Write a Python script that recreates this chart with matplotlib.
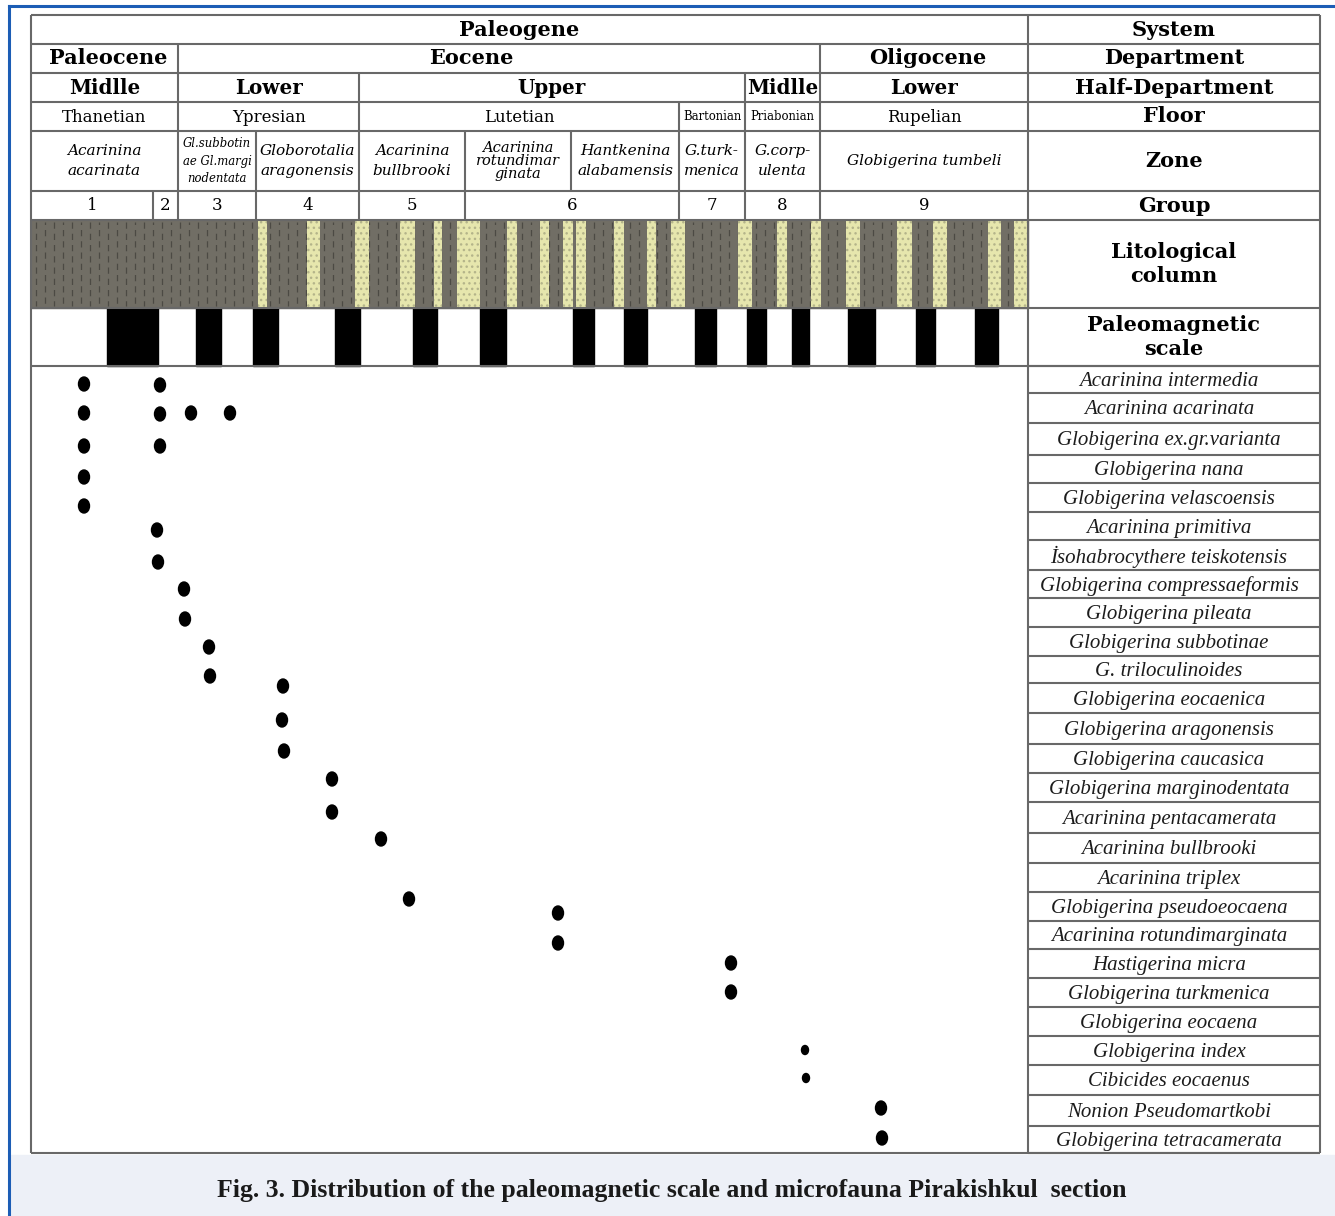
import numpy as np
import matplotlib.pyplot as plt
from matplotlib.patches import Rectangle, Ellipse

# ---- conteúdo do quadro ----
system = ['Paleogene']
departments = ['Paleocene', 'Eocene', 'Oligocene']
half_departments = ['Midlle', 'Lower', 'Upper', 'Midlle', 'Lower']
floors = ['Thanetian', 'Ypresian', 'Lutetian', 'Bartonian', 'Priabonian', 'Rupelian']
zones = ['Acarinina\nacarinata', 'Gl.subbotin\nae Gl.margi\nnodentata', 'Globorotalia\naragonensis',
         'Acarinina\nbullbrooki', 'Acarinina\nrotundimar\nginata', 'Hantkenina\nalabamensis',
         'G.turk-\nmenica', 'G.corp-\nulenta', 'Globigerina tumbeli']
groups = ['1', '2', '3', '4', '5', '6', '7', '8', '9']
row_titles = ['System', 'Department', 'Half-Department', 'Floor', 'Zone', 'Group',
              'Litological\ncolumn', 'Paleomagnetic\nscale']

species = ['Acarinina intermedia', 'Acarinina acarinata', 'Globigerina ex.gr.varianta',
           'Globigerina nana', 'Globigerina velascoensis', 'Acarinina primitiva',
           'İsohabrocythere teiskotensis', 'Globigerina compressaeformis', 'Globigerina pileata',
           'Globigerina subbotinae', 'G. triloculinoides', 'Globigerina eocaenica',
           'Globigerina aragonensis', 'Globigerina caucasica', 'Globigerina marginodentata',
           'Acarinina pentacamerata', 'Acarinina bullbrooki', 'Acarinina triplex',
           'Globigerina pseudoeocaena', 'Acarinina rotundimarginata', 'Hastigerina micra',
           'Globigerina turkmenica', 'Globigerina eocaena', 'Globigerina index',
           'Cibicides eocaenus', 'Nonion Pseudomartkobi', 'Globigerina tetracamerata']

# camadas de arenito (faixas amarelas) na coluna litológica: início, fim
sand_start = [258, 307, 355, 400, 434, 457, 507, 540, 563, 576, 614, 647, 671, 738, 777, 811, 846, 897, 933, 988, 1014]
sand_end = [267, 320, 369, 415, 442, 480, 517, 549, 573, 586, 624, 656, 685, 752, 787, 821, 860, 912, 947, 1001, 1027]

# intervalos de polaridade (barras pretas) na escala paleomagnética
polar_start = [107, 196, 253, 335, 413, 480, 573, 624, 695, 747, 792, 848, 916, 975]
polar_end = [158, 221, 278, 360, 437, 506, 594, 647, 716, 766, 809, 875, 935, 998]

# ocorrências da microfauna (posição no corte, profundidade)
occ_x = [84, 84, 84, 84, 84, 160, 160, 160, 191, 230, 157, 158, 184, 185, 209, 210,
         283, 282, 284, 332, 332, 381, 409, 558, 558, 731, 731, 805, 806, 881, 882]
occ_y = [384, 413, 446, 477, 506, 385, 414, 446, 413, 413, 530, 562, 589, 619, 647, 676,
         686, 720, 751, 779, 812, 839, 899, 913, 943, 963, 992, 1050, 1078, 1108, 1138]
occ_small = [False] * 27 + [True, True] + [False, False]

# ---- geometria do quadro ----
X0, XD, X1 = 31, 1028, 1320
row_edges = [15, 44, 73, 102, 131, 191, 220, 308, 366]
dept_edges = [31, 178, 820, 1028]
half_edges = [31, 178, 359, 745, 820, 1028]
floor_edges = [31, 178, 359, 679, 745, 820, 1028]
zone_edges = [31, 178, 256, 359, 465, 571, 679, 745, 820, 1028]
group_edges = [31, 153, 178, 256, 359, 465, 679, 745, 820, 1028]
species_edges = [366, 393, 423, 455, 483, 512, 540, 570, 598, 627, 656, 683, 713, 744, 773,
                 802, 833, 863, 892, 921, 949, 978, 1007, 1036, 1065, 1095, 1126, 1153]

LINE = '#686868'
SERIF = 'DejaVu Serif'

fig = plt.figure(figsize=(13.35, 12.16), dpi=100)
ax = fig.add_axes([0, 0, 1, 1])
ax.set_xlim(0, 1335)
ax.set_ylim(1216, 0)
ax.axis('off')

# moldura azul e faixa da legenda
ax.add_patch(Rectangle((9, 1155), 1326, 61, color='#edf0f7', zorder=0))
ax.plot([9, 9], [6, 1216], color='#1c5db5', lw=2.2, zorder=5)
ax.plot([9, 1335], [6, 6], color='#1c5db5', lw=2.2, zorder=5)

# coluna litológica
top, bot = row_edges[6], row_edges[7]
ax.add_patch(Rectangle((X0, top), XD - X0, bot - top, color='#716e65', zorder=1))
xs = np.arange(X0 + 5, XD, 9)
for i, x in enumerate(xs):
    ax.vlines(x, top + 2, bot - 2, colors='#2f2e29', lw=0.9,
              linestyles=[(3 * (i % 2), (5, 4))], alpha=0.55, zorder=2)
for s, e in zip(sand_start, sand_end):
    ax.add_patch(Rectangle((s, top), e - s, bot - top, facecolor='#e6e6ad',
                           edgecolor='#b4b48a', lw=0, hatch='...', zorder=3))

# escala paleomagnética
top, bot = row_edges[7], row_edges[8]
for s, e in zip(polar_start, polar_end):
    ax.add_patch(Rectangle((s, top), e - s, bot - top, color='black', zorder=3))

# linhas do quadro
def hline(y, a, b):
    ax.plot([a, b], [y, y], color=LINE, lw=1.5, zorder=4, solid_capstyle='butt')

def vline(x, a, b):
    ax.plot([x, x], [a, b], color=LINE, lw=1.5, zorder=4, solid_capstyle='butt')

for y in row_edges:
    hline(y, X0, X1)
for y in species_edges:
    hline(y, XD, X1)
hline(species_edges[-1], X0, X1)
for x in (X0, XD, X1):
    vline(x, row_edges[0], species_edges[-1])

header = [(None, None), (departments, dept_edges), (half_departments, half_edges),
          (floors, floor_edges), (zones, zone_edges), (groups, group_edges)]
for r, (labels, edges) in enumerate(header):
    if edges is None:
        continue
    for x in edges[1:-1]:
        vline(x, row_edges[r], row_edges[r + 1])

# textos do cabeçalho
def cell_text(labels, edges, r, shift=None, **kw):
    yc = (row_edges[r] + row_edges[r + 1]) / 2
    shift = shift or [0] * len(labels)
    for lab, a, b, d in zip(labels, edges[:-1], edges[1:], shift):
        ax.text((a + b) / 2 + d, yc, lab, ha='center', va='center', family=SERIF, zorder=6, **kw)

cell_text(system, [X0, XD], 0, shift=[-10], fontsize=15, weight='bold')
cell_text(departments, dept_edges, 1, shift=[4, -28, 4], fontsize=15, weight='bold')
cell_text(half_departments, half_edges, 2, fontsize=14.3, weight='bold')
for lab, a, b in zip(floors, floor_edges[:-1], floor_edges[1:]):
    small = lab in ('Bartonian', 'Priabonian')
    ax.text((a + b) / 2, 117, lab, ha='center', va='center', family=SERIF,
            fontsize=8.4 if small else 12, zorder=6)
for lab, a, b in zip(zones, zone_edges[:-1], zone_edges[1:]):
    n = lab.count('\n')
    if lab.startswith('Gl.sub'):
        fs, ls = 8.4, 1.45
    elif n == 2:
        fs, ls = 10.5, 0.95
    else:
        fs, ls = 11, 1.55
    ax.text((a + b) / 2, 161, lab, ha='center', va='center', family=SERIF, style='italic',
            fontsize=fs, linespacing=ls, zorder=6)
cell_text(groups, group_edges, 5, fontsize=12)

for r, t in enumerate(row_titles):
    yc = (row_edges[r] + row_edges[r + 1]) / 2
    ax.text((XD + X1) / 2, yc, t, ha='center', va='center', family=SERIF, weight='bold',
            fontsize=15, linespacing=1.2, zorder=6)

# lista de espécies
for i, sp in enumerate(species):
    yc = (species_edges[i] + species_edges[i + 1]) / 2 + 2
    ax.text((XD + X1) / 2 - 5, yc, sp, ha='center', va='center', family='Liberation Serif',
            style='italic', fontsize=15, color='#1c1c1c', zorder=6)

# ocorrências
for x, y, sm in zip(occ_x, occ_y, occ_small):
    w, h = (7, 9) if sm else (11, 14)
    ax.add_patch(Ellipse((x, y), w, h, color='black', zorder=6))

ax.text(672, 1191, 'Fig. 3. Distribution of the paleomagnetic scale and microfauna Pirakishkul  section',
        ha='center', va='center', family='Liberation Serif', weight='bold', fontsize=18.5,
        color='#1a1a1a', zorder=6)

fig.savefig('out.png', dpi=100)
